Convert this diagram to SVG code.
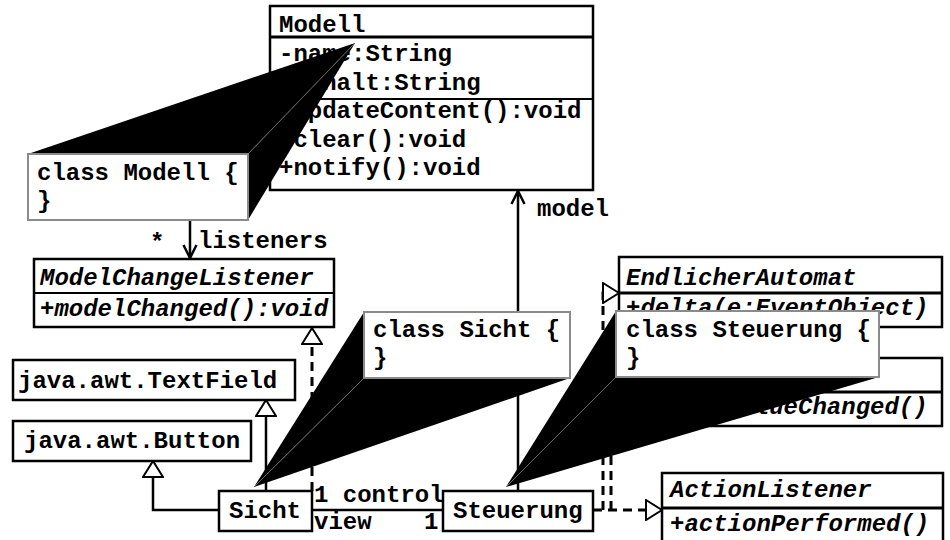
<svg xmlns="http://www.w3.org/2000/svg" width="950" height="540" viewBox="0 0 950 540">
<style>
.box{fill:#fff;stroke:#000;stroke-width:2.5}
.sep{stroke:#000;stroke-width:3}
.sep2{stroke:#000;stroke-width:2}
.t{font-family:"Liberation Mono","Courier New",monospace;font-weight:bold;font-size:24px;fill:#000}
.i{font-style:italic}
.ln{fill:none;stroke:#000;stroke-width:2.5}
.dash{fill:none;stroke:#000;stroke-width:3;stroke-dasharray:9,6}
.wedge{fill:#000;stroke:none}
.seam{stroke:#6a6a6a;stroke-width:1}
.note{fill:#fff;stroke:#8a8a8a;stroke-width:2}
</style>
<defs>
<marker id="gen" markerUnits="userSpaceOnUse" viewBox="0 0 18 22" refX="17" refY="11" markerWidth="18" markerHeight="22" orient="auto">
<path d="M1,1 L17,11 L1,21 Z" fill="#fff" stroke="#000" stroke-width="2"/>
</marker>
<marker id="open" markerUnits="userSpaceOnUse" viewBox="0 0 15 16" refX="14" refY="8" markerWidth="15" markerHeight="16" orient="auto">
<path d="M1,1.5 L14,8 L1,14.5" fill="none" stroke="#000" stroke-width="2.5"/>
</marker>
</defs>

<g id="connectors">
<path class="ln" d="M270,108 H190 V258" marker-end="url(#open)"/>
<path class="ln" d="M518,491 V191" marker-end="url(#open)"/>
<path class="ln" d="M312,510 H443"/>
<path class="ln" d="M219,510 H153 V461" marker-end="url(#gen)"/>
<path class="ln" d="M266,491 V400" marker-end="url(#gen)"/>
<path class="dash" d="M312,491 V328" marker-end="url(#gen)"/>
<path class="dash" d="M593,510 H662" marker-end="url(#gen)"/>
<path class="dash" d="M603,510 V293 H619" marker-end="url(#gen)"/>
<path class="dash" d="M611,510 V392 H648" marker-end="url(#gen)"/>
<text class="t" x="150" y="250">*</text>
<text class="t" x="198" y="248">listeners</text>
<text class="t" x="537" y="216">model</text>
<text class="t" x="314" y="502">1 control</text>
<text class="t" x="314" y="529">view</text>
<text class="t" x="424" y="529">1</text>
</g>

<g id="modell">
<rect class="box" x="270" y="6" width="323" height="184"/>
<line class="sep" x1="270" y1="37" x2="593" y2="37"/>
<line class="sep2" x1="270" y1="99" x2="593" y2="99"/>
<text class="t" x="279" y="32">Modell</text>
<text class="t" x="279" y="61">-name:String</text>
<text class="t" x="279" y="90">-inhalt:String</text>
<text class="t" x="279" y="118">+updateContent():void</text>
<text class="t" x="279" y="147">+clear():void</text>
<text class="t" x="279" y="175">+notify():void</text>
</g>

<g id="modelchangelistener">
<rect class="box" x="34" y="259" width="300" height="68"/>
<line class="sep2" x1="34" y1="293" x2="334" y2="293"/>
<text class="t i" x="40" y="285">ModelChangeListener</text>
<text class="t i" x="40" y="316">+modelChanged():void</text>
</g>

<g id="textfield">
<rect class="box" x="13" y="360" width="282" height="40"/>
<text class="t" x="18" y="388">java.awt.TextField</text>
</g>

<g id="button">
<rect class="box" x="13" y="421" width="238" height="40"/>
<text class="t" x="24" y="448">java.awt.Button</text>
</g>

<g id="sicht">
<rect class="box" x="219" y="491" width="93" height="40"/>
<text class="t" x="229" y="518">Sicht</text>
</g>

<g id="steuerung">
<rect class="box" x="443" y="491" width="150" height="40"/>
<text class="t" x="453" y="518">Steuerung</text>
</g>

<g id="endlicherautomat">
<rect class="box" x="619" y="257" width="323" height="70"/>
<line class="sep" x1="619" y1="293" x2="942" y2="293"/>
<text class="t i" x="626" y="285">EndlicherAutomat</text>
<text class="t i" x="626" y="315">+delta(e:EventObject)</text>
</g>

<g id="textlistener">
<rect class="box" x="648" y="358" width="294" height="68"/>
<line class="sep" x1="648" y1="392" x2="942" y2="392"/>
<text class="t i" x="654" y="385">TextListener</text>
<text class="t i" x="654" y="414">+textValueChanged()</text>
</g>

<g id="actionlistener">
<rect class="box" x="662" y="473" width="281" height="90"/>
<line class="sep" x1="662" y1="508" x2="943" y2="508"/>
<text class="t i" x="670" y="497">ActionListener</text>
<text class="t i" x="670" y="531">+actionPerformed()</text>
</g>

<g id="note-modell">
<polygon class="wedge" points="28,154 248,154 355,43"/>
<polygon class="wedge" points="248,154 248,220 355,43"/>
<line class="seam" x1="248" y1="154" x2="355" y2="43"/>
<rect class="note" x="28" y="154" width="220" height="66"/>
<text class="t" x="37" y="180">class Modell {</text>
<text class="t" x="37" y="208">}</text>
</g>

<g id="note-sicht">
<polygon class="wedge" points="364,312 364,378 254,487"/>
<polygon class="wedge" points="364,378 570,378 254,487"/>
<line class="seam" x1="364" y1="378" x2="254" y2="487"/>
<rect class="note" x="364" y="312" width="206" height="66"/>
<text class="t" x="373" y="337">class Sicht {</text>
<text class="t" x="373" y="365">}</text>
</g>

<g id="note-steuerung">
<polygon class="wedge" points="616,311 616,377 506,487"/>
<polygon class="wedge" points="616,377 879,377 506,487"/>
<line class="seam" x1="616" y1="377" x2="506" y2="487"/>
<rect class="note" x="616" y="311" width="263" height="66"/>
<text class="t" x="626" y="337">class Steuerung {</text>
<text class="t" x="626" y="365">}</text>
</g>
</svg>
